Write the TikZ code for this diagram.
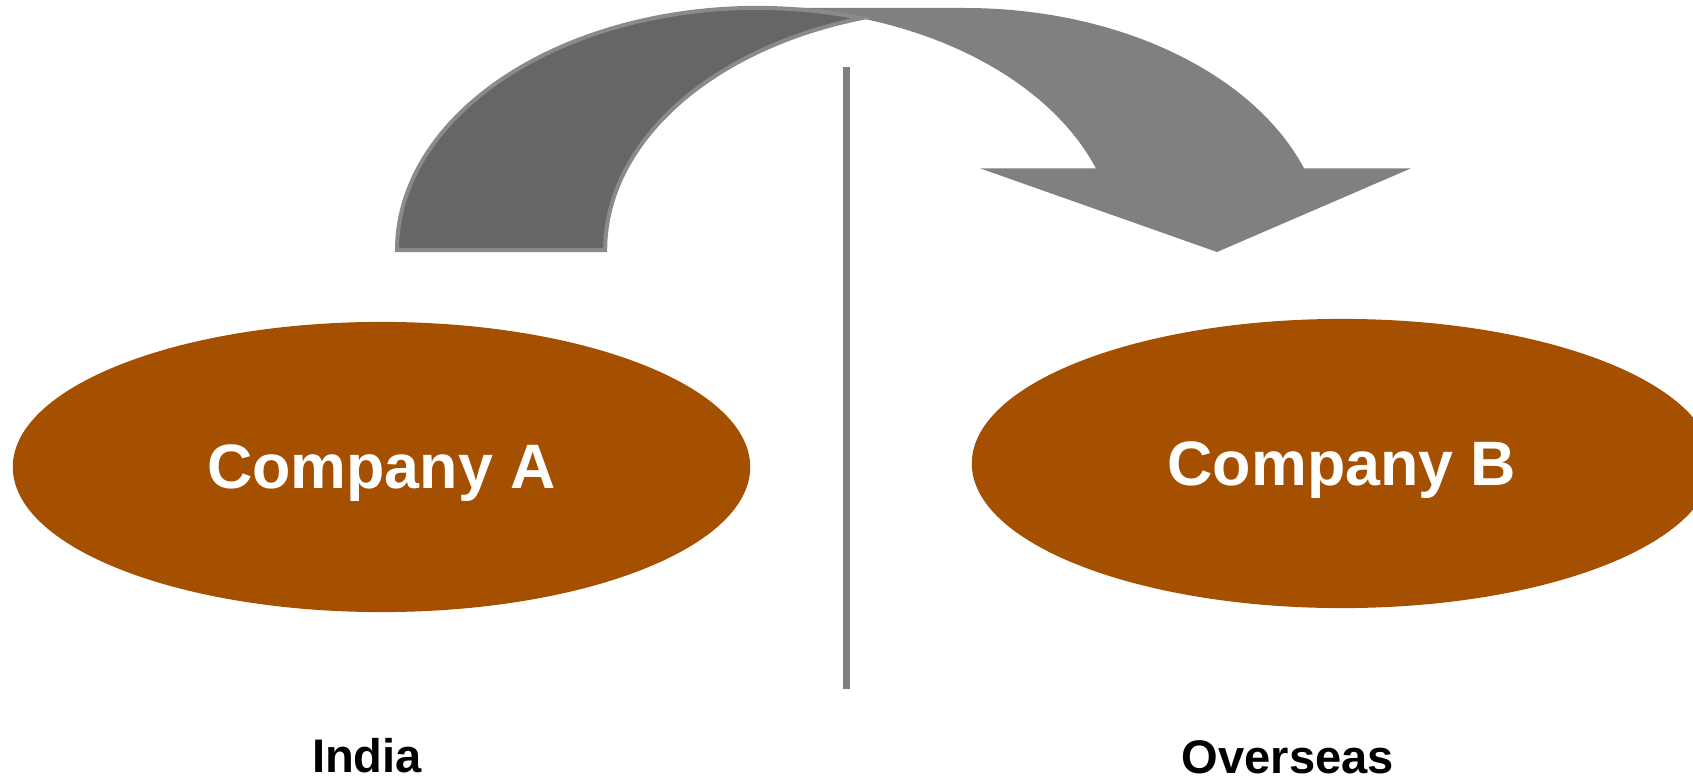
\documentclass[tikz,border=0pt]{standalone}
\usepackage{fontspec}
\setmainfont{Liberation Sans}
\usetikzlibrary{shapes.geometric, positioning}

\definecolor{firm}{HTML}{A54F00}
\definecolor{backband}{HTML}{666666}
\definecolor{frontband}{HTML}{808080}
\definecolor{bandedge}{HTML}{8A8A8A}

\begin{document}
\begin{tikzpicture}[x=0.01cm, y=0.01cm,
  firm/.style = {ellipse, fill=firm, inner sep=0pt, text depth=0pt, text=white,
    font=\fontsize{17.85}{20}\selectfont\bfseries},
  place/.style = {anchor=base, font=\fontsize{13.4}{16}\selectfont\bfseries}]
\useasboundingbox (0,0) rectangle (1693,778);

% front part of the curved arrow
\fill[frontband] (757,770) -- (965,770)
  arc[start angle=90, end angle=19.73, x radius=3.6cm, y radius=2.42cm]
  -- (1411,609.7) -- (1217,526) -- (980,609.7) -- (1095.9,609.7)
  arc[start angle=19.73, end angle=90, x radius=3.6cm, y radius=2.42cm] -- cycle;
% back part
\filldraw[fill=backband, draw=bandedge, line width=0.04cm] (397,528)
  arc[start angle=180, end angle=73.2, x radius=3.6cm, y radius=2.42cm]
  arc[start angle=106.8, end angle=180, x radius=3.6cm, y radius=2.42cm] -- cycle;

% divider
\coordinate (top) at (846,711);
\coordinate (bottom) at (846,89);
\draw[frontband, line width=0.07cm] (top) -- (bottom);

\node[firm, minimum width=7.37cm, minimum height=2.9cm] (A) at (381.5,311) {Company A};
\node[firm, minimum width=7.4cm, minimum height=2.89cm] (B) at (1342,314.5) {Company B};

\node[place] (india) at (367,6) {India};
\node[place] (overseas) at (1288,5) {Overseas};
\end{tikzpicture}
\end{document}
